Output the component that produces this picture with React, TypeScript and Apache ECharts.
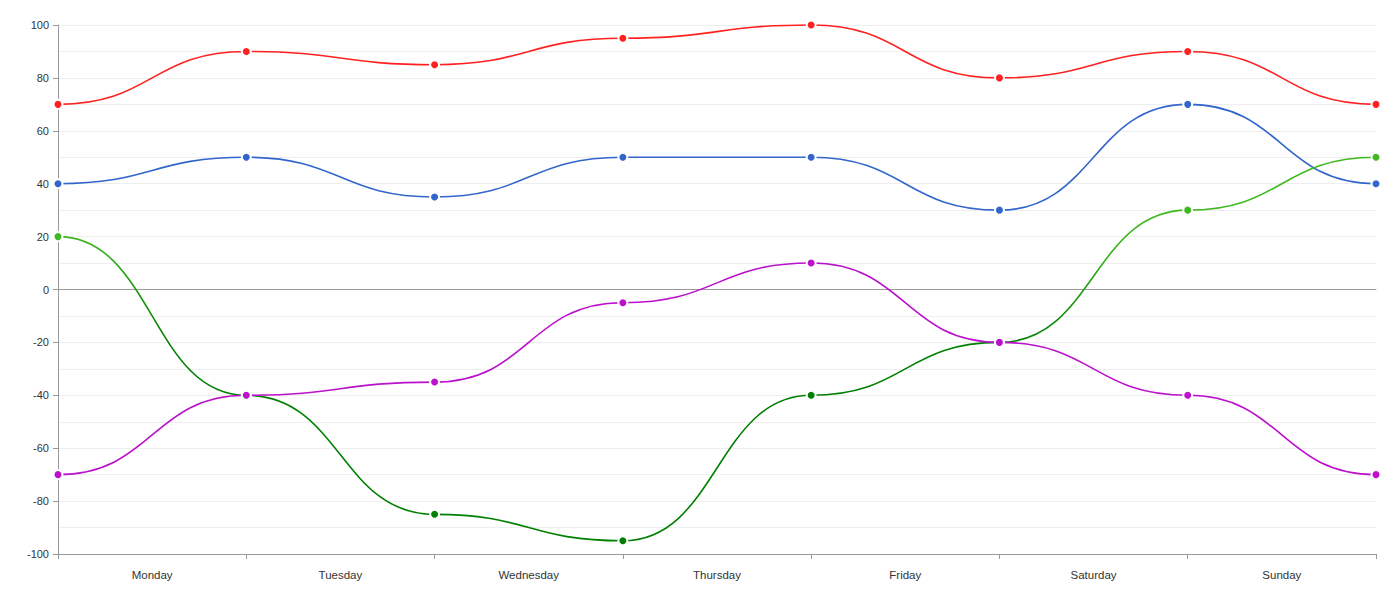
import React, { useEffect, useRef } from "react";
import * as echarts from "echarts";

const days = ["Monday", "Tuesday", "Wednesday", "Thursday", "Friday", "Saturday", "Sunday"];
const redValues = [70, 90, 85, 95, 100, 80, 90, 70];
const blueValues = [40, 50, 35, 50, 50, 30, 70, 40];
const greenValues = [20, -40, -85, -95, -40, -20, 30, 50];
const magentaValues = [-70, -40, -35, -5, 10, -20, -40, -70];

const GREEN_LIGHT = "#40b820";
const GREEN_DARK = "#008000";

const toPoints = (vals: number[]) => vals.map((v, i) => [i, v]);

const curveSeries = (name: string, vals: number[], color: string, gradient: boolean) => ({
  name,
  type: "custom",
  xAxisIndex: 1,
  data: toPoints(vals),
  encode: { x: 0, y: 1 },
  renderItem: (params: any, api: any) => {
    const i = params.dataIndex;
    const p = api.coord([api.value(0), api.value(1)]);
    const children: any[] = [];
    const pointColor = (v: number, y: number) => {
      if (!gradient) return color;
      return v >= 0 ? GREEN_LIGHT : GREEN_DARK;
    };
    let stroke: any = color;
    if (gradient) {
      const yTop = api.coord([0, 20])[1];
      const yBot = api.coord([0, -20])[1];
      stroke = new echarts.graphic.LinearGradient(
        0, yTop, 0, yBot,
        [
          { offset: 0, color: GREEN_LIGHT },
          { offset: 1, color: GREEN_DARK },
        ],
        true
      );
    }
    if (i < vals.length - 1) {
      const q = api.coord([i + 1, vals[i + 1]]);
      const dx = q[0] - p[0];
      children.push({
        type: "bezierCurve",
        z2: 1,
        shape: {
          x1: p[0], y1: p[1],
          cpx1: p[0] + dx * 0.5, cpy1: p[1],
          cpx2: q[0] - dx * 0.5, cpy2: q[1],
          x2: q[0], y2: q[1],
        },
        style: { stroke, lineWidth: 1.6, fill: null },
      });
    }
    children.push({
      type: "circle",
      z2: 10,
      shape: { cx: p[0], cy: p[1], r: 4.5 },
      style: { fill: pointColor(api.value(1), p[1]), stroke: "#fff", lineWidth: 2 },
    });
    return { type: "group", children };
  },
});

export default function App() {
  const ref = useRef<HTMLDivElement>(null);
  useEffect(() => {
    if (!ref.current) return;
    const chart = echarts.init(ref.current, null, { renderer: "svg" });
    chart.setOption({
      animation: false,
      textStyle: { fontFamily: "Liberation Sans, Arial, sans-serif" },
      grid: { left: 58, right: 24, top: 25, bottom: 46 },
      xAxis: [
        {
          type: "category",
          data: days,
          boundaryGap: true,
          position: "bottom",
          axisLine: { onZero: false, lineStyle: { color: "#999" } },
          axisTick: { show: true, length: 5, lineStyle: { color: "#999" } },
          axisLabel: { color: "#333", fontSize: 11.5, margin: 15 },
          splitLine: { show: false },
        },
        {
          type: "value",
          min: 0,
          max: days.length,
          position: "bottom",
          axisLine: { show: true, onZero: true, lineStyle: { color: "#999" } },
          axisTick: { show: false },
          axisLabel: { show: false },
          splitLine: { show: false },
        },
      ],
      yAxis: {
        type: "value",
        min: -100,
        max: 100,
        interval: 20,
        axisLine: { show: true, lineStyle: { color: "#999" } },
        axisTick: { show: true, length: 5, lineStyle: { color: "#999" } },
        axisLabel: { color: "#333", fontSize: 11, margin: 9 },
        splitLine: { show: true, lineStyle: { color: "#eee" } },
        minorTick: { show: false, splitNumber: 2 },
        minorSplitLine: { show: true, lineStyle: { color: "#eee" } },
      },
      series: [
        curveSeries("Red", redValues, "#ff2020", false),
        curveSeries("Blue", blueValues, "#3366cc", false),
        curveSeries("Green", greenValues, GREEN_DARK, true),
        curveSeries("Magenta", magentaValues, "#bb11cc", false),
      ],
    });
    return () => chart.dispose();
  }, []);
  return <div ref={ref} style={{ width: 1400, height: 600, position: "absolute", left: 0, top: 0 }} />;
}
